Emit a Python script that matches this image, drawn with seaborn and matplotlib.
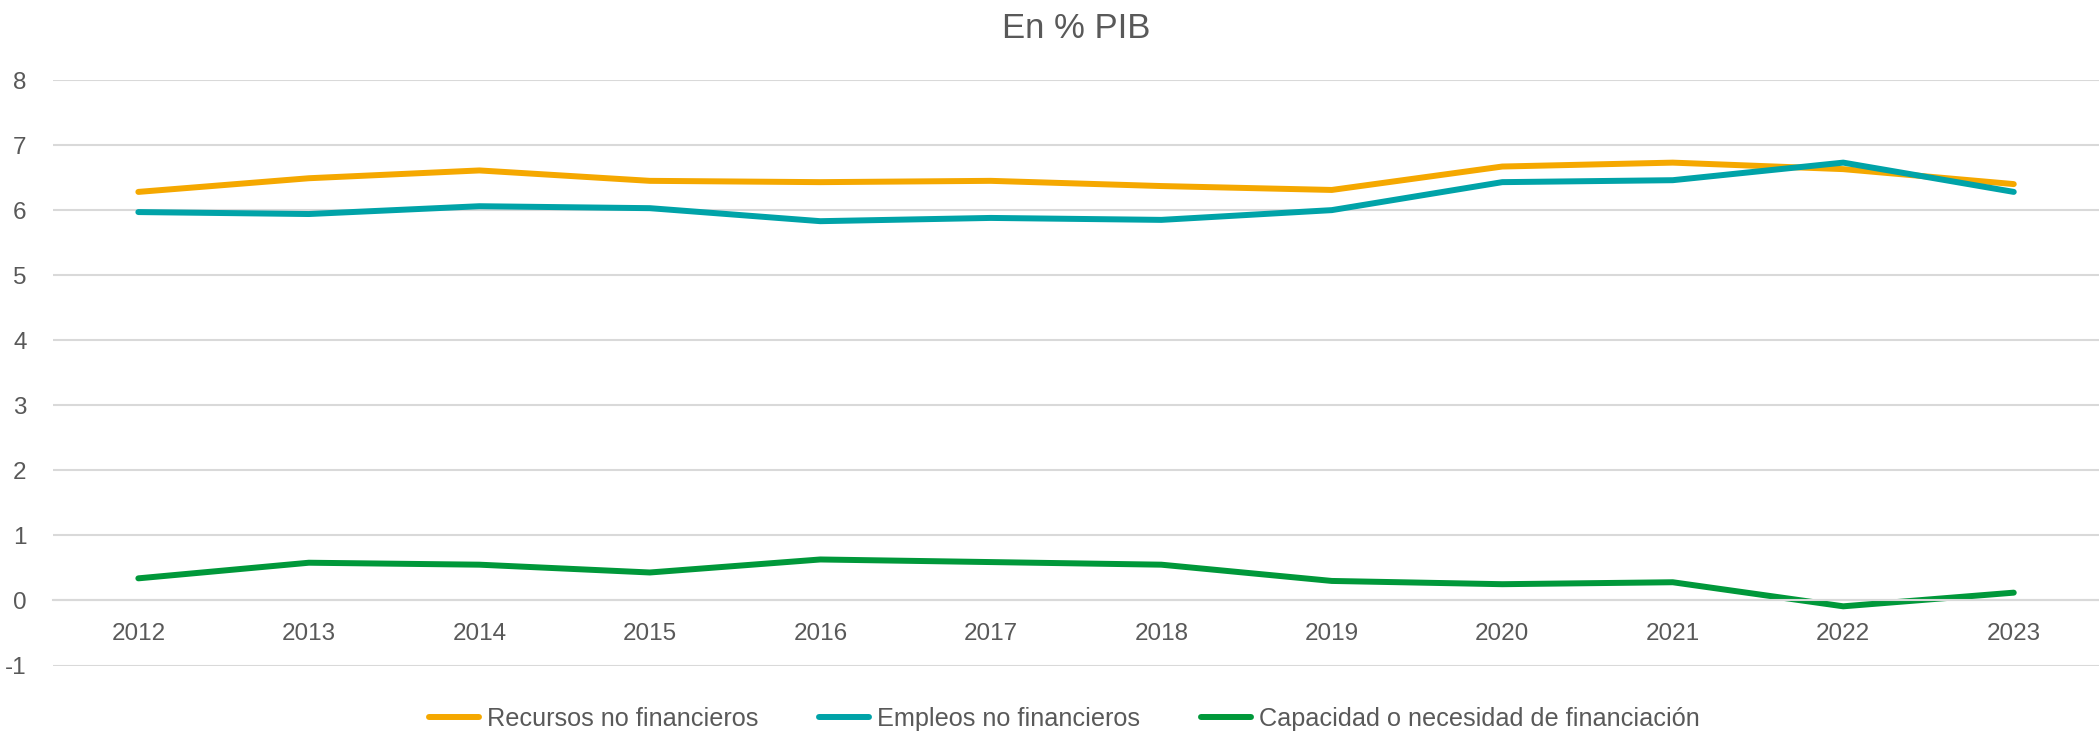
import pandas as pd
import matplotlib.pyplot as plt
import seaborn as sns

years = list(range(2012, 2024))
recursos = [6.28, 6.49, 6.61, 6.45, 6.43, 6.45, 6.37, 6.31, 6.67, 6.73, 6.63, 6.40]
empleos = [5.97, 5.94, 6.06, 6.03, 5.83, 5.88, 5.85, 6.00, 6.43, 6.46, 6.73, 6.28]
capacidad = [0.34, 0.58, 0.55, 0.43, 0.63, 0.59, 0.55, 0.30, 0.25, 0.28, -0.09, 0.12]

series_names = [
    "Recursos no financieros",
    "Empleos no financieros",
    "Capacidad o necesidad de financiación",
]
colors = ["#F5A800", "#00A3A8", "#00983A"]

df = pd.DataFrame({
    "year": years * 3,
    "value": recursos + empleos + capacidad,
    "serie": [series_names[0]] * 12 + [series_names[1]] * 12 + [series_names[2]] * 12,
})

sns.set_style("white")
plt.rcParams["font.family"] = ["Liberation Sans Narrow", "Liberation Sans", "DejaVu Sans"]
plt.rcParams["axes.unicode_minus"] = False
text_color = "#595959"
grid_color = "#D9D9D9"
lw = 4.3

fig = plt.figure(figsize=(20.99, 7.34), dpi=100)
ax = fig.add_axes([0.0253, 0.0933, 0.9747, 0.7977])

sns.lineplot(data=df, x="year", y="value", hue="serie", hue_order=series_names,
             palette=colors, linewidth=lw, ax=ax, legend=False,
             solid_capstyle="round")

ax.set_xlim(2011.5, 2023.5)
ax.set_ylim(-1, 8)
ax.set_yticks(range(-1, 9))
ax.set_xticks(years)
ax.yaxis.grid(True, color=grid_color, linewidth=1.5)
ax.set_axisbelow(True)
for s in ["top", "right", "left"]:
    ax.spines[s].set_visible(False)
ax.spines["bottom"].set_position(("data", 0))
ax.spines["bottom"].set_color(grid_color)
ax.spines["bottom"].set_linewidth(1.5)
ax.tick_params(axis="x", length=0, pad=16, labelsize=17.5, labelcolor=text_color)
ax.tick_params(axis="y", length=0, pad=19, labelsize=17.5, labelcolor=text_color)
ax.set_xlabel("")
ax.set_ylabel("")

ax.set_title("En % PIB", fontsize=25, color=text_color, y=1.0, pad=30)

handles = [plt.Line2D([], [], color=c, linewidth=lw, solid_capstyle="round") for c in colors]
fig.legend(handles, series_names, loc="center", bbox_to_anchor=(0.507, 0.0204),
           ncol=3, frameon=False, fontsize=18.2, handlelength=2.0,
           handletextpad=0.3, columnspacing=2.4, labelcolor=text_color)

fig.savefig("out.png", dpi=100)
